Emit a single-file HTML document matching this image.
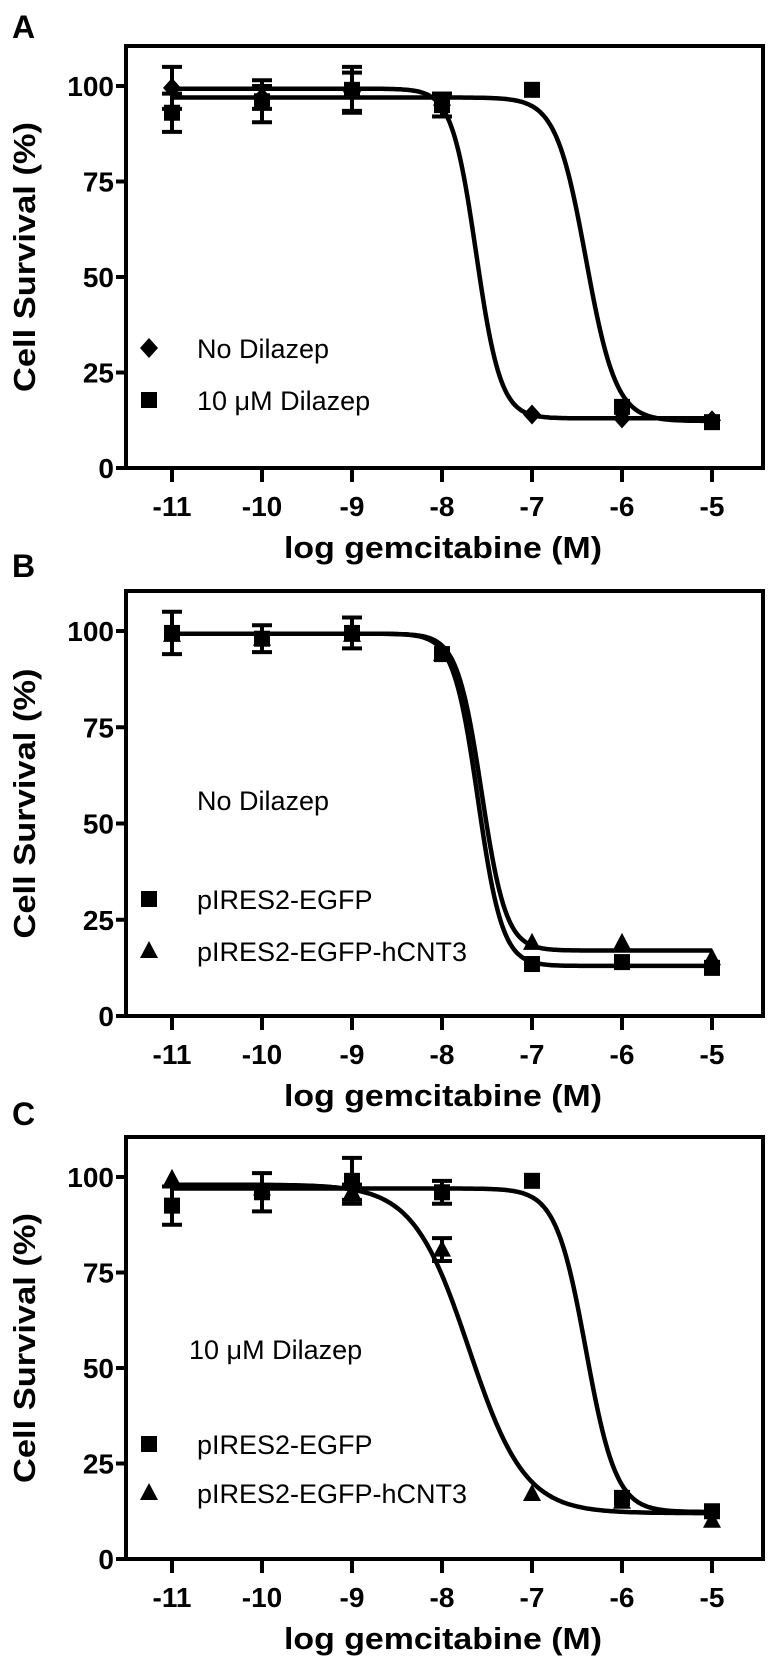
<!DOCTYPE html>
<html><head><meta charset="utf-8"><style>
html,body{margin:0;padding:0;background:#fff;}
svg{display:block;font-family:"Liberation Sans",Arial,sans-serif;}
</style></head><body>
<svg id="fig" width="770" height="1667" viewBox="0 0 770 1667" xmlns="http://www.w3.org/2000/svg"></svg>
<script>
const xTicks = [-11,-10,-9,-8,-7,-6,-5];
const yTicks = [0,25,50,75,100];
const doses = [-11,-10,-9,-8,-7,-6,-5];
// Panel A
const aNoDil = [99.5,97,98.5,95,14,13,12.5];
const aNoDilErr = [5.5,3,5,3,0,0,0];
const aDil = [93,96,99,95,99,16,12];
const aDilErr = [5,5.5,6,3,0,0,0];
const aNoDilFit = [99.3,13,-7.62,3.2];
const aDilFit = [97,12.3,-6.4,2.6];
// Panel B
const bEgfp = [99.5,98,99.5,94,13.5,14,12.5];
const bEgfpErr = [5.5,3.5,4,0,0,0,0];
const bCnt3 = [99,98,99,94,19,19,15];
const bEgfpFit = [99.3,13,-7.6,3.2];
const bCnt3Fit = [99.3,17,-7.56,3.2];
// Panel C
const cEgfp = [92.5,96,99,96,99,16,12.5];
const cEgfpErr = [5,5,6,3,0,0,0];
const cCnt3 = [99.5,97,96,81,17,15,10];
const cCnt3Err = [0,0,2,3,0,0,0];
const cEgfpFit = [97,12.3,-6.4,2.6];
const cCnt3Fit = [98,12,-7.7,1.4];

const NS="http://www.w3.org/2000/svg";
const svg=document.getElementById('fig');
function mk(tag,attrs,parent){const e=document.createElementNS(NS,tag);for(const k in attrs)e.setAttribute(k,attrs[k]);(parent||svg).appendChild(e);return e;}
const X0=172, XS=90;
function sx(v){return X0+(v+11)*XS;}

function panel(p){
  const g=mk('g',{});
  
  
  const top=p.top, zero=p.zero, ppu=(zero-(top+40))/100;
  const sy=v=>zero-v*ppu;
  const lt=mk('text',{x:12,y:p.letterY,'font-size':32,'font-weight':'bold'},g);lt.textContent=p.letter;
  
  
  const box=mk('rect',{x:126,y:top,width:637,height:zero-top,fill:'none',stroke:'#000','stroke-width':4},g);
  
  
  yTicks.forEach(t=>{
    mk('line',{x1:116,x2:126,y1:sy(t),y2:sy(t),stroke:'#000','stroke-width':4},g);
    const tx=mk('text',{x:114,y:sy(t)+10,'font-size':28,'font-weight':'bold','text-anchor':'end'},g);tx.textContent=t;
    
    
  });
  xTicks.forEach(t=>{
    mk('line',{x1:sx(t),x2:sx(t),y1:zero,y2:zero+14,stroke:'#000','stroke-width':4},g);
    const tx=mk('text',{x:sx(t),y:zero+48,'font-size':28,'font-weight':'bold','text-anchor':'middle'},g);tx.textContent=t;
    
    
  });
  const xt=mk('text',{x:443,y:zero+90,'font-size':31,'font-weight':'bold','text-anchor':'middle',textLength:318,lengthAdjust:'spacingAndGlyphs'},g);xt.textContent='log gemcitabine (M)';
  
  
  const cy=(top+zero)/2;
  const yt=mk('text',{x:0,y:0,'font-size':31,'font-weight':'bold','text-anchor':'middle',textLength:270,lengthAdjust:'spacingAndGlyphs',transform:`translate(35,${cy}) rotate(-90)`},g);yt.textContent='Cell Survival (%)';
  
  
  p.series.forEach(s=>{
    const f=s.fit;let d='';
    for(let x=-11;x<=-5.0001+0.02;x+=0.02){const xv=Math.min(x,-5);const y=f[1]+(f[0]-f[1])/(1+Math.pow(10,(xv-f[2])*f[3]));d+=(d?'L':'M')+sx(xv).toFixed(1)+' '+sy(y).toFixed(1);}
    const c=mk('path',{d:d,fill:'none',stroke:'#000','stroke-width':4.5},g);
    
    
    doses.forEach((dv,i)=>{
      const v=s.vals[i],e=s.err?s.err[i]:0,x=sx(dv),y=sy(v);
      if(e>0){
        const eb=mk('path',{d:`M${x} ${sy(v+e)}L${x} ${sy(v-e)}M${x-10} ${sy(v+e)}L${x+10} ${sy(v+e)}M${x-10} ${sy(v-e)}L${x+10} ${sy(v-e)}`,stroke:'#000','stroke-width':4,fill:'none'},g);
        
        
      }
      const m=marker(s.shape,x,y,g);
      
      
    });
  });
  p.legend.forEach(l=>{
    if(l.shape){const m=marker(l.shape,149,l.y,g);
      
      }
    const t=mk('text',{x:l.x,y:l.y+10,'font-size':27},g);
    t.innerHTML=l.text;
    
    
  });
}
function marker(shape,x,y,g){
  if(shape==='sq')return mk('rect',{x:x-8,y:y-8,width:16,height:16,fill:'#000'},g);
  if(shape==='di')return mk('polygon',{points:`${x},${y-10} ${x+9},${y} ${x},${y+10} ${x-9},${y}`,fill:'#000'},g);
  return mk('polygon',{points:`${x},${y-10} ${x+9},${y+7} ${x-9},${y+7}`,fill:'#000'},g);
}
panel({letter:'A',letterY:38,top:46,zero:468,
  series:[{name:'no-dilazep',vals:aNoDil,err:aNoDilErr,fit:aNoDilFit,shape:'di'},{name:'dilazep-10um',vals:aDil,err:aDilErr,fit:aDilFit,shape:'sq'}],
  legend:[{shape:'di',y:348,x:197,text:'No Dilazep'},{shape:'sq',y:400,x:197,text:'10 μM Dilazep'}]});
panel({letter:'B',letterY:577,top:591,zero:1016,
  series:[{name:'pires2-egfp-hcnt3',vals:bCnt3,err:null,fit:bCnt3Fit,shape:'tri'},{name:'pires2-egfp',vals:bEgfp,err:bEgfpErr,fit:bEgfpFit,shape:'sq'}],
  legend:[{y:800,x:197,text:'No Dilazep'},{shape:'sq',y:899,x:197,text:'pIRES2-EGFP'},{shape:'tri',y:951,x:197,text:'pIRES2-EGFP-hCNT3'}]});
panel({letter:'C',letterY:1125,top:1137,zero:1559,
  series:[{name:'pires2-egfp',vals:cEgfp,err:cEgfpErr,fit:cEgfpFit,shape:'sq'},{name:'pires2-egfp-hcnt3',vals:cCnt3,err:cCnt3Err,fit:cCnt3Fit,shape:'tri'}],
  legend:[{y:1349,x:189,text:'10 μM Dilazep'},{shape:'sq',y:1444,x:197,text:'pIRES2-EGFP'},{shape:'tri',y:1493,x:197,text:'pIRES2-EGFP-hCNT3'}]});
</script>
</body></html>
